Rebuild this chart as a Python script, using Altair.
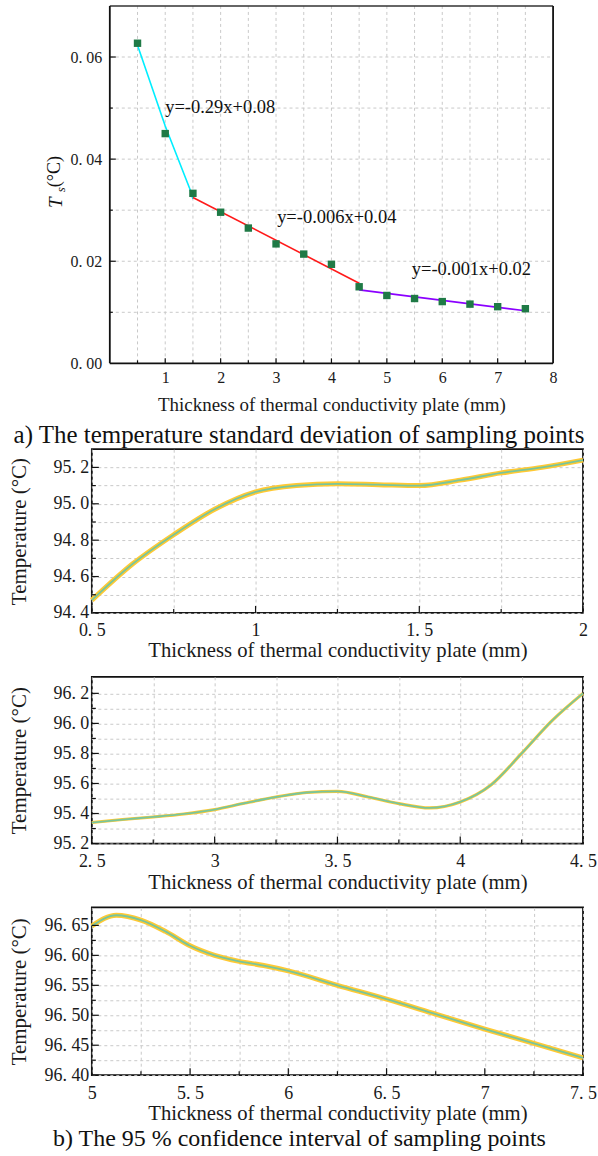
import altair as alt
import pandas as pd

FONT = "Liberation Serif"

# ---------------- panel a data ----------------
thick_a = [0.5, 1.0, 1.5, 2.0, 2.5, 3.0, 3.5, 4.0, 4.5, 5.0, 5.5, 6.0, 6.5, 7.0, 7.5]
ts_a = [0.0627, 0.0450, 0.0333, 0.0296, 0.0265, 0.0234, 0.0214, 0.0194,
        0.0150, 0.0133, 0.0127, 0.0121, 0.0116, 0.0111, 0.0107]
fit_seg = ["s1", "s1", "s1", "s1", "s2", "s2", "s3", "s3"]
fit_x = [0.5, 1.0, 1.45, 1.5, 1.5, 4.5, 4.5, 7.5]
fit_y = [0.0623, 0.0465, 0.0340, 0.0322, 0.0325, 0.0157, 0.0144, 0.0103]
fit_colors = ["#00eeff", "#ff1a1a", "#8b00ff"]
eq_text = ["y=-0.29x+0.08", "y=-0.006x+0.04", "y=-0.001x+0.02"]
eq_x = [1.0, 3.02, 5.45]
eq_y = [0.0503, 0.0287, 0.0184]
grid_x_a = [0.5, 1, 1.5, 2, 2.5, 3, 3.5, 4, 4.5, 5, 5.5, 6, 6.5, 7, 7.5]
grid_y_a = [0.01, 0.02, 0.03, 0.04, 0.05, 0.06]
label_x_a = [1, 2, 3, 4, 5, 6, 7, 8]
label_y_a = [0.0, 0.02, 0.04, 0.06]
tick_x_major_a = [1, 2, 3, 4, 5, 6, 7]
tick_x_minor_a = [0.5, 1.5, 2.5, 3.5, 4.5, 5.5, 6.5, 7.5]
tick_y_major_a = [0.02, 0.04, 0.06]
tick_y_minor_a = [0.01, 0.03, 0.05]

# ---------------- panel b data ----------------
x_b1 = [0.5, 0.625, 0.75, 0.875, 1.0, 1.125, 1.25, 1.375, 1.5, 1.625, 1.75, 1.875, 2.0]
y_b1 = [94.47, 94.67, 94.83, 94.97, 95.065, 95.10, 95.11, 95.105, 95.10, 95.13, 95.17, 95.20, 95.24]
x_b2 = [2.5, 2.625, 2.75, 2.875, 3.0, 3.125, 3.25, 3.375, 3.5, 3.625, 3.75, 3.875, 4.0,
        4.125, 4.25, 4.375, 4.5]
y_b2 = [95.34, 95.36, 95.377, 95.397, 95.426, 95.47, 95.51, 95.54, 95.547, 95.51, 95.466,
        95.437, 95.477, 95.59, 95.80, 96.02, 96.20]
x_b3 = [5.0, 5.125, 5.25, 5.375, 5.5, 5.625, 5.75, 5.875, 6.0, 6.25, 6.5, 6.75, 7.0, 7.25, 7.5]
y_b3 = [96.649, 96.667, 96.659, 96.640, 96.616, 96.600, 96.590, 96.583, 96.574, 96.550,
        96.527, 96.502, 96.477, 96.453, 96.429]

xgrid_b1 = [0.5, 0.75, 1.0, 1.25, 1.5, 1.75, 2.0]
ygrid_b1 = [94.4, 94.5, 94.6, 94.7, 94.8, 94.9, 95.0, 95.1, 95.2]
xgrid_b2 = [2.5, 2.75, 3.0, 3.25, 3.5, 3.75, 4.0, 4.25, 4.5]
ygrid_b2 = [95.2, 95.3, 95.4, 95.5, 95.6, 95.7, 95.8, 95.9, 96.0, 96.1, 96.2]
xgrid_b3 = [5.0, 5.25, 5.5, 5.75, 6.0, 6.25, 6.5, 6.75, 7.0, 7.25, 7.5]
ygrid_b3 = [96.4, 96.425, 96.45, 96.475, 96.5, 96.525, 96.55, 96.575, 96.6, 96.625, 96.65]

caption_a = "a) The temperature standard deviation of sampling points"
caption_b = "b) The 95 % confidence interval of sampling points"
x_title = "Thickness of thermal conductivity plate (mm)"
y_title_b = "Temperature (°C)"

GRID_COLOR = "#c9c9c9"
LABEL_COLOR = "#1a1a1a"
FRAME = "#111111"

one = pd.DataFrame({"d": [0]})

# ================= panel a =================
W1, XOFF, PH1, GH1 = 462, 18, 358, 380

X1 = alt.X(
    "x:Q",
    scale=alt.Scale(domain=[0, 8], range=[XOFF, W1], nice=False, zero=False),
    axis=alt.Axis(
        values=label_x_a, grid=False, ticks=False, domain=False, offset=-(GH1 - PH1),
        labelExpr="format(datum.value,'~g')", labelFont=FONT, labelFontSize=16,
        labelColor=LABEL_COLOR, labelPadding=6, labelFlush=False, labelOverlap=False,
        title=x_title, titleFont=FONT, titleFontSize=19, titleFontWeight="normal",
        titleColor=LABEL_COLOR, titleY=41, titleBaseline="middle",
    ),
)
Y1 = alt.Y(
    "y:Q",
    scale=alt.Scale(domain=[0, 0.07], range=[PH1, 0], nice=False, zero=False),
    axis=alt.Axis(
        values=label_y_a, grid=False, ticks=False, domain=False, offset=-XOFF,
        labelExpr="replace(format(datum.value,'.2f'),'.','. ')", labelFont=FONT,
        labelFontSize=16, labelColor=LABEL_COLOR, labelPadding=8, labelFlush=False,
        labelOverlap=False, title=None,
    ),
)

gx_a = alt.Chart(pd.DataFrame({"x": grid_x_a})).mark_rule(
    color=GRID_COLOR, strokeDash=[3, 3], strokeWidth=1
).encode(x=X1, y=alt.value(0), y2=alt.value(PH1))
gy_a = alt.Chart(pd.DataFrame({"y": grid_y_a})).mark_rule(
    color=GRID_COLOR, strokeDash=[3, 3], strokeWidth=1
).encode(y=Y1, x=alt.value(XOFF), x2=alt.value(W1))

fit_df = pd.DataFrame({"x": fit_x, "y": fit_y, "seg": fit_seg})
fit_lines = alt.Chart(fit_df).mark_line(strokeWidth=1.6).encode(
    x=X1, y=Y1,
    color=alt.Color("seg:N", scale=alt.Scale(domain=["s1", "s2", "s3"], range=fit_colors), legend=None),
)
pts = alt.Chart(pd.DataFrame({"x": thick_a, "y": ts_a})).mark_square(
    size=55, color="#1f7a46", opacity=1
).encode(x=X1, y=Y1)
eqs = alt.Chart(pd.DataFrame({"x": eq_x, "y": eq_y, "t": eq_text})).mark_text(
    align="left", baseline="middle", font=FONT, fontSize=18.5, color="#111"
).encode(x=X1, y=Y1, text="t:N")

tx_maj = alt.Chart(pd.DataFrame({"x": tick_x_major_a})).mark_rule(color=FRAME, strokeWidth=1.2).encode(
    x=X1, y=alt.value(PH1), y2=alt.value(PH1 - 5))
tx_min = alt.Chart(pd.DataFrame({"x": tick_x_minor_a})).mark_rule(color=FRAME, strokeWidth=1.2).encode(
    x=X1, y=alt.value(PH1), y2=alt.value(PH1 - 3))
ty_maj = alt.Chart(pd.DataFrame({"y": tick_y_major_a})).mark_rule(color=FRAME, strokeWidth=1.2).encode(
    y=Y1, x=alt.value(XOFF), x2=alt.value(XOFF + 6))
ty_min = alt.Chart(pd.DataFrame({"y": tick_y_minor_a})).mark_rule(color=FRAME, strokeWidth=1.2).encode(
    y=Y1, x=alt.value(XOFF), x2=alt.value(XOFF + 3))

fr_top = alt.Chart(one).mark_rule(color="#333", strokeWidth=1.6).encode(
    x=alt.value(XOFF), x2=alt.value(W1), y=alt.value(0))
fr_bot = alt.Chart(one).mark_rule(color=FRAME, strokeWidth=1.8).encode(
    x=alt.value(XOFF), x2=alt.value(W1), y=alt.value(PH1))
fr_left = alt.Chart(one).mark_rule(color=FRAME, strokeWidth=1.8).encode(
    x=alt.value(XOFF), y=alt.value(0), y2=alt.value(PH1))
fr_right = alt.Chart(one).mark_rule(color=FRAME, strokeWidth=1.8).encode(
    x=alt.value(W1), y=alt.value(0), y2=alt.value(PH1))

yt_T = alt.Chart(one).mark_text(
    text="T", angle=270, font=FONT, fontSize=19, fontStyle="italic", color="#111",
    align="center", baseline="middle").encode(x=alt.value(-36), y=alt.value(197))
yt_s = alt.Chart(one).mark_text(
    text="s", angle=270, font=FONT, fontSize=13, fontStyle="italic", color="#111",
    align="center", baseline="middle").encode(x=alt.value(-31), y=alt.value(184))
yt_c = alt.Chart(one).mark_text(
    text="(°C)", angle=270, font=FONT, fontSize=18, color="#111",
    align="center", baseline="middle").encode(x=alt.value(-37), y=alt.value(166))
cap_a = alt.Chart(one).mark_text(
    text=caption_a, font=FONT, fontSize=25, color="#111", align="center", baseline="middle"
).encode(x=alt.value(207.5), y=alt.value(430))

panel_a = alt.layer(
    gx_a, gy_a, fit_lines, pts, eqs, tx_maj, tx_min, ty_maj, ty_min,
    fr_top, fr_bot, fr_left, fr_right, yt_T, yt_s, yt_c, cap_a
).properties(width=W1, height=GH1, view=alt.ViewBackground(stroke="transparent"))


# ================= panel b helpers =================
def curve_panel(xs, ys, xdom, ydom, xgrid, ygrid, ymult, yfmt, H, band_w, title_y, extra=None):
    W = 492
    X = alt.X(
        "x:Q",
        scale=alt.Scale(domain=xdom, nice=False, zero=False),
        axis=alt.Axis(
            values=xgrid, grid=True, gridColor=GRID_COLOR, gridDash=[3, 3], gridWidth=1,
            ticks=False, domain=False,
            labelExpr="abs(datum.value*2-round(datum.value*2))<1e-6 ? replace(format(datum.value,'~g'),'.','. ') : ''",
            labelFont=FONT, labelFontSize=18, labelColor=LABEL_COLOR, labelPadding=9,
            labelFlush=False, labelOverlap=False,
            title=x_title, titleFont=FONT, titleFontSize=20.7, titleFontWeight="normal",
            titleColor=LABEL_COLOR, titleY=title_y, titleBaseline="middle",
        ),
    )
    Y = alt.Y(
        "y:Q",
        scale=alt.Scale(domain=ydom, nice=False, zero=False),
        axis=alt.Axis(
            values=ygrid, grid=True, gridColor=GRID_COLOR, gridDash=[3, 3], gridWidth=1,
            ticks=False, domain=False,
            labelExpr=f"abs(datum.value*{ymult}-round(datum.value*{ymult}))<1e-6 ? replace(format(datum.value,'{yfmt}'),'.','. ') : ''",
            labelFont=FONT, labelFontSize=18, labelColor=LABEL_COLOR, labelPadding=3,
            labelFlush=False, labelOverlap=False,
            title=y_title_b, titleFont=FONT, titleFontSize=21, titleFontWeight="normal",
            titleColor=LABEL_COLOR, titleAngle=270, titleX=-72, titleY=H / 2,
            titleAlign="center", titleBaseline="middle",
        ),
    )
    df = pd.DataFrame({"x": xs, "y": ys})
    band = alt.Chart(df).mark_line(interpolate="monotone", strokeWidth=band_w, color="#ffc933").encode(x=X, y=Y)
    core = alt.Chart(df).mark_line(interpolate="monotone", strokeWidth=1.8, color="#78c59c").encode(x=X, y=Y)
    xmaj = [v for v in xgrid if abs(v * 2 - round(v * 2)) < 1e-6]
    xmin = [v for v in xgrid if abs(v * 2 - round(v * 2)) >= 1e-6]
    ymaj = [v for v in ygrid if abs(v * ymult - round(v * ymult)) < 1e-6]
    ymin = [v for v in ygrid if abs(v * ymult - round(v * ymult)) >= 1e-6]
    layers = [band, core]
    layers.append(alt.Chart(pd.DataFrame({"x": xmaj})).mark_rule(color=FRAME, strokeWidth=1.2).encode(
        x=X, y=alt.value(H), y2=alt.value(H - 7)))
    layers.append(alt.Chart(pd.DataFrame({"x": xmin})).mark_rule(color=FRAME, strokeWidth=1.2).encode(
        x=X, y=alt.value(H), y2=alt.value(H - 4)))
    layers.append(alt.Chart(pd.DataFrame({"y": ymaj})).mark_rule(color=FRAME, strokeWidth=1.2).encode(
        y=Y, x=alt.value(0), x2=alt.value(7)))
    layers.append(alt.Chart(pd.DataFrame({"y": ymin})).mark_rule(color=FRAME, strokeWidth=1.2).encode(
        y=Y, x=alt.value(0), x2=alt.value(4)))
    if extra is not None:
        layers.append(extra)
    return alt.layer(*layers).properties(width=W, height=H)


panel_b1 = curve_panel(x_b1, y_b1, [0.5, 2.0], [94.4, 95.3], xgrid_b1, ygrid_b1, 5, ".1f", 164, 5, 38)
panel_b2 = curve_panel(x_b2, y_b2, [2.5, 4.5], [95.2, 96.31], xgrid_b2, ygrid_b2, 5, ".1f", 167, 3.2, 39.5)
cap_b = alt.Chart(one).mark_text(
    text=caption_b, font=FONT, fontSize=24, color="#111", align="center", baseline="middle"
).encode(x=alt.value(208), y=alt.value(232))
panel_b3 = curve_panel(x_b3, y_b3, [5.0, 7.5], [96.4, 96.68], xgrid_b3, ygrid_b3, 20, ".2f", 168, 5, 38.5, cap_b)

chart = alt.vconcat(
    panel_a, panel_b1, panel_b2, panel_b3, spacing=64, bounds="flush"
).properties(
    padding={"left": 8, "top": 3, "right": 0, "bottom": 0},
    background="white",
).configure_view(stroke=FRAME, strokeWidth=1.8)

chart.save("out.html", embed_options={"renderer": "svg", "actions": False})
